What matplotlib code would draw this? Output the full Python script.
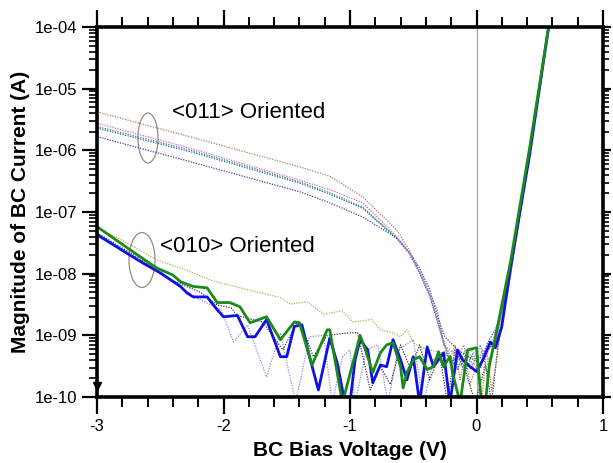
import numpy as np
import matplotlib
matplotlib.use('Agg')
import matplotlib.pyplot as plt
from matplotlib.patches import Ellipse
from matplotlib.ticker import FixedLocator, LogLocator, FuncFormatter, MultipleLocator, NullFormatter

plt.rcParams['font.family'] = ['Liberation Sans', 'DejaVu Sans']
plt.rcParams['axes.unicode_minus'] = False

# ---- <011> oriented devices (thin dotted curves) ----
brown_x = [-3.0, -2.27, -1.40, -1.16, -0.90, -0.63, -0.53, -0.42, -0.31, -0.27, -0.21, -0.17,
           -0.13, -0.09, -0.05, 0.0, 0.04, 0.08, 0.12, 0.16, 0.21, 0.27, 0.42, 0.57, 0.66]
brown_y = [4.2e-6, 1.67e-6, 5.4e-7, 3.8e-7, 1.76e-7, 5.1e-8, 2.4e-8, 7.9e-9, 2.6e-9, 9.5e-10, 4.0e-10, 7.0e-10,
           1.9e-10, 4.8e-10, 1.6e-10, 3.3e-10, 8e-11, 5.8e-10, 1.3e-10, 4.0e-10, 2.6e-9, 1.4e-8, 1.0e-6, 1.0e-4, 1.2e-3]

pink_x = [-3.0, -2.27, -1.40, -1.16, -0.90, -0.63, -0.53, -0.45, -0.37, -0.31, -0.26, -0.21,
          -0.15, -0.10, -0.05, 0.0, 0.05, 0.10, 0.15, 0.20, 0.27, 0.42, 0.57, 0.66]
pink_y = [2.75e-6, 1.09e-6, 3.3e-7, 2.3e-7, 1.41e-7, 4.0e-8, 2.2e-8, 1.07e-8, 4.9e-9, 1.8e-9, 7.0e-10, 5.8e-10,
          4.4e-10, 7.0e-10, 2.8e-10, 3.7e-10, 5.8e-10, 4.0e-10, 7.0e-10, 1.8e-9, 9.6e-9, 9.5e-7, 1.0e-4, 1.2e-3]

teal_x = [-3.0, -2.27, -1.40, -1.16, -0.90, -0.63, -0.53, -0.45, -0.37, -0.31, -0.25, -0.21,
          -0.15, -0.09, -0.03, 0.03, 0.09, 0.15, 0.20, 0.27, 0.42, 0.57, 0.66]
teal_y = [2.44e-6, 1.02e-6, 3.1e-7, 2.05e-7, 1.2e-7, 3.8e-8, 2.2e-8, 1.07e-8, 4.6e-9, 1.8e-9, 7.0e-10, 4.8e-10,
          2.8e-10, 5.8e-10, 3.3e-10, 7.0e-10, 2.3e-10, 8.5e-10, 3.1e-9, 1.24e-8, 1.0e-6, 1.0e-4, 1.2e-3]
steel_y = [2.3e-6, 9.6e-7, 2.95e-7, 1.95e-7, 1.15e-7, 3.7e-8, 2.1e-8, 1.02e-8, 4.3e-9, 1.7e-9, 6.5e-10, 3.6e-10,
           4.5e-10, 2.5e-10, 5.0e-10, 3.0e-10, 6.0e-10, 7.5e-10, 2.6e-9, 1.1e-8, 9.0e-7, 1.0e-4, 1.2e-3]

purple_x = [-3.0, -2.27, -1.40, -1.16, -0.90, -0.63, -0.53, -0.45, -0.37, -0.30, -0.25, -0.15,
            -0.05, 0.0, 0.05, 0.10, 0.15, 0.20, 0.27, 0.42, 0.57, 0.66]
purple_y = [1.67e-6, 6.6e-7, 2.14e-7, 1.41e-7, 8.3e-8, 3.8e-8, 2.2e-8, 1.24e-8, 5.5e-9, 1.8e-9, 9.5e-10, 5.8e-10,
            4.4e-10, 3.7e-10, 4.8e-10, 8.5e-10, 1.23e-9, 2.6e-9, 1.24e-8, 1.0e-6, 1.0e-4, 1.2e-3]

# ---- <010> oriented devices ----
blue_x = [-3.0, -2.74, -2.64, -2.50, -2.34, -2.29, -2.24, -2.13, -2.05, -2.00, -1.89, -1.81, -1.75,
          -1.66, -1.55, -1.50, -1.44, -1.38, -1.32, -1.25, -1.16, -1.10, -1.04, -1.00, -0.96, -0.92,
          -0.86, -0.82, -0.76, -0.71, -0.66, -0.60, -0.55, -0.50, -0.45, -0.39, -0.34, -0.30, -0.26,
          -0.21, -0.15, -0.11, -0.05, 0.0, 0.05, 0.11, 0.15, 0.20, 0.27, 0.42, 0.57, 0.66]
blue_y = [4.3e-8, 2.0e-8, 1.5e-8, 1.03e-8, 6.2e-9, 4.9e-9, 4.2e-9, 4.2e-9, 2.6e-9, 2.0e-9, 2.1e-9, 9.5e-10, 9.5e-10,
          1.8e-9, 4.5e-10, 4.5e-10, 1.4e-9, 1.48e-9, 4.5e-10, 1.3e-10, 9.0e-10, 3.5e-10, 8e-11, 8e-11, 4.0e-10, 8.5e-10,
          5.8e-10, 1.7e-10, 3.3e-10, 3.1e-10, 8.5e-10, 4.0e-10, 1.9e-10, 4.5e-10, 8e-11, 6.5e-10, 3.1e-10, 4.0e-10, 5.2e-10,
          8e-11, 5.8e-10, 4.0e-10, 3.1e-10, 2.6e-10, 4.0e-10, 7.8e-10, 6.3e-10, 1.38e-9, 1.3e-8, 8.5e-7, 1.0e-4, 1.2e-3]

green_x = [-3.0, -2.74, -2.53, -2.40, -2.34, -2.24, -2.13, -2.05, -1.95, -1.87, -1.79, -1.66, -1.55,
           -1.44, -1.40, -1.30, -1.18, -1.16, -1.06, -0.92, -0.87, -0.82, -0.76, -0.71, -0.66, -0.60,
           -0.58, -0.55, -0.50, -0.45, -0.39, -0.34, -0.30, -0.26, -0.21, -0.19, -0.13, -0.07, 0.0,
           0.04, 0.07, 0.10, 0.15, 0.27, 0.42, 0.57, 0.66]
green_y = [5.8e-8, 2.45e-8, 1.24e-8, 9.5e-9, 7.4e-9, 6.2e-9, 5.9e-9, 3.4e-9, 3.4e-9, 2.9e-9, 1.6e-9, 2.0e-9, 8.5e-10,
           1.65e-9, 1.6e-9, 3.3e-10, 1.23e-9, 1.23e-9, 8e-11, 1.0e-9, 5.2e-10, 2.5e-10, 5.2e-10, 7.0e-10, 7.6e-10, 3.1e-10,
           1.4e-10, 2.5e-10, 4.0e-10, 4.5e-10, 2.8e-10, 3.1e-10, 5.4e-10, 3.1e-10, 4.5e-10, 2.5e-10, 8e-11, 5.8e-10, 6.3e-10,
           8e-11, 8e-11, 3.1e-10, 9.5e-10, 1.6e-8, 1.1e-6, 1.0e-4, 1.2e-3]

olive_x = [-3.0, -2.79, -2.53, -2.34, -2.08, -1.81, -1.55, -1.47, -1.34, -1.21, -1.06, -0.98, -0.83,
           -0.76, -0.66, -0.60, -0.55, -0.50, -0.39, -0.29, -0.17, -0.05, 0.07, 0.15, 0.27, 0.42, 0.57, 0.66]
olive_y = [5.5e-8, 3.4e-8, 1.67e-8, 1.24e-8, 7.6e-9, 5.5e-9, 4.1e-9, 3.2e-9, 3.5e-9, 2.2e-9, 2.5e-9, 1.65e-9, 1.8e-9,
           1.23e-9, 1.1e-9, 9.5e-10, 1.23e-9, 7.6e-10, 5.8e-10, 5.4e-10, 4.0e-10, 4.8e-10, 2.8e-10, 7.0e-10, 1.15e-8,
           9.5e-7, 1.0e-4, 1.2e-3]

black_x = [-3.0, -2.69, -2.42, -2.19, -2.05, -1.94, -1.89, -1.77, -1.69, -1.53, -1.42, -1.37, -1.29,
           -1.18, -1.00, -0.94, -0.84, -0.76, -0.68, -0.60, -0.52, -0.45, -0.37, -0.29, -0.23, -0.17,
           -0.09, -0.01, 0.07, 0.12, 0.17, 0.25, 0.42, 0.57, 0.66]
black_y = [4.6e-8, 1.9e-8, 7.9e-9, 5.1e-9, 3.1e-9, 2.8e-9, 2.1e-9, 1.8e-9, 1.65e-9, 5.8e-10, 1.65e-9, 1.23e-9, 4.5e-10,
           1.0e-9, 1.1e-9, 1.1e-9, 1.3e-10, 3.1e-10, 1.6e-10, 7.0e-10, 2.8e-10, 7.0e-10, 1.9e-10, 4.8e-10, 8e-11, 5.8e-10,
           2.8e-10, 8e-11, 3.3e-10, 8e-11, 7.0e-10, 5.5e-9, 8.5e-7, 1.0e-4, 1.2e-3]

lav_x = [-3.0, -2.50, -2.23, -2.02, -1.92, -1.81, -1.66, -1.55, -1.43, -1.32, -1.21, -1.14, -1.06,
         -1.00, -0.96, -0.87, -0.78, -0.70, -0.62, -0.50, -0.42, -0.34, -0.25, -0.15, -0.05, 0.05,
         0.12, 0.20, 0.27, 0.42, 0.57, 0.66]
lav_y = [4.1e-8, 1.07e-8, 4.2e-9, 2.6e-9, 7.8e-10, 1.48e-9, 2.1e-10, 1.1e-9, 8e-11, 9.5e-10, 1.0e-9, 8e-11, 4.5e-10,
         5.8e-10, 8e-11, 5.8e-10, 7.0e-10, 8e-11, 5.8e-10, 8.5e-10, 8e-11, 4.0e-10, 5.4e-10, 2.8e-10, 5.8e-10, 4.0e-10,
         7.0e-10, 2.6e-9, 1.15e-8, 1.0e-6, 1.0e-4, 1.2e-3]

y_major = [1e-10, 1e-9, 1e-8, 1e-7, 1e-6, 1e-5, 1e-4]

fig = plt.figure(figsize=(6.13, 4.63), dpi=100)
ax = fig.add_axes([97 / 613, 1 - 397 / 463, 506 / 613, 370 / 463])

ax.axvline(0, color='#a8a8a8', lw=0.9, zorder=1)

# dotted curves first, thick solid ones on top
dot = dict(ls=(0, (1, 1.1)), lw=0.9)
ax.plot(lav_x, lav_y, color='#8f8fd8', **dot)
ax.plot(olive_x, olive_y, color='#b3b04a', **dot)
ax.plot(black_x, black_y, color='#3a3a3a', **dot)
ax.plot(brown_x, brown_y, color='#b07f5a', **dot)
ax.plot(purple_x, purple_y, color='#4b3fb0', **dot)
ax.plot(teal_x, steel_y, color='#2f5fb8', **dot)
ax.plot(teal_x, teal_y, color='#2f9a5a', **dot)
ax.plot(pink_x, pink_y, color='#e45ce4', **dot)
ax.plot(blue_x, blue_y, color='#1010e6', lw=2.0)
ax.plot(green_x, green_y, color='#1b8a1b', lw=2.0)

ax.set_yscale('log')
ax.set_xlim(-3, 1)
ax.set_ylim(1e-10, 1e-4)

# annotations
ax.add_patch(Ellipse((51 / 506, 1 - 111 / 370), 20 / 506, 50 / 370, transform=ax.transAxes,
                     fill=False, ec='#8c8c8c', lw=0.9))
ax.add_patch(Ellipse((45 / 506, 1 - 233 / 370), 26 / 506, 55 / 370, transform=ax.transAxes,
                     fill=False, ec='#8c8c8c', lw=0.9))
ax.text(75 / 506, 1 - 85 / 370, '<011> Oriented', transform=ax.transAxes, fontsize=16, va='center', ha='left')
ax.text(63 / 506, 1 - 219 / 370, '<010> Oriented', transform=ax.transAxes, fontsize=16, va='center', ha='left')

# odd little mark at the lower left corner of the original
ax.plot([0.0], [0.03], marker='v', color='black', ms=6, transform=ax.transAxes, clip_on=False)

# ticks
ax.xaxis.set_major_locator(MultipleLocator(1))
ax.xaxis.set_minor_locator(MultipleLocator(0.2))
ax.yaxis.set_major_locator(FixedLocator(y_major))
ax.yaxis.set_major_formatter(FuncFormatter(lambda v, p: f'{v:.0e}'))
ax.yaxis.set_minor_locator(LogLocator(base=10, subs=np.arange(2, 10)))
ax.yaxis.set_minor_formatter(NullFormatter())

ax.tick_params(axis='x', which='major', direction='out', top=True, length=12, width=1.6, labelsize=12, pad=4)
ax.tick_params(axis='x', which='minor', direction='out', top=True, length=7, width=1.4)
ax.tick_params(axis='y', which='major', direction='out', length=11, width=1.6, labelsize=12, pad=3)
ax.tick_params(axis='y', which='minor', direction='out', length=6, width=1.2)

for sp in ax.spines.values():
    sp.set_linewidth(2.6)

# right side ticks are shorter
ax2 = ax.twinx()
ax2.set_yscale('log')
ax2.set_ylim(1e-10, 1e-4)
ax2.yaxis.set_major_locator(FixedLocator(y_major))
ax2.yaxis.set_minor_locator(LogLocator(base=10, subs=np.arange(2, 10)))
ax2.yaxis.set_major_formatter(NullFormatter())
ax2.yaxis.set_minor_formatter(NullFormatter())
ax2.tick_params(axis='y', which='major', direction='out', length=6, width=1.6)
ax2.tick_params(axis='y', which='minor', direction='out', length=4, width=1.2)
for sp in ax2.spines.values():
    sp.set_visible(False)

fig.text(350 / 613, 1 - 450 / 463, 'BC Bias Voltage (V)', fontsize=15, fontweight='bold', ha='center', va='center')
fig.text(21 / 613, 1 - 212 / 463, 'Magnitude of BC Current (A)', fontsize=15, fontweight='bold',
         rotation=90, ha='center', va='center')

fig.savefig('out.png', dpi=100)
